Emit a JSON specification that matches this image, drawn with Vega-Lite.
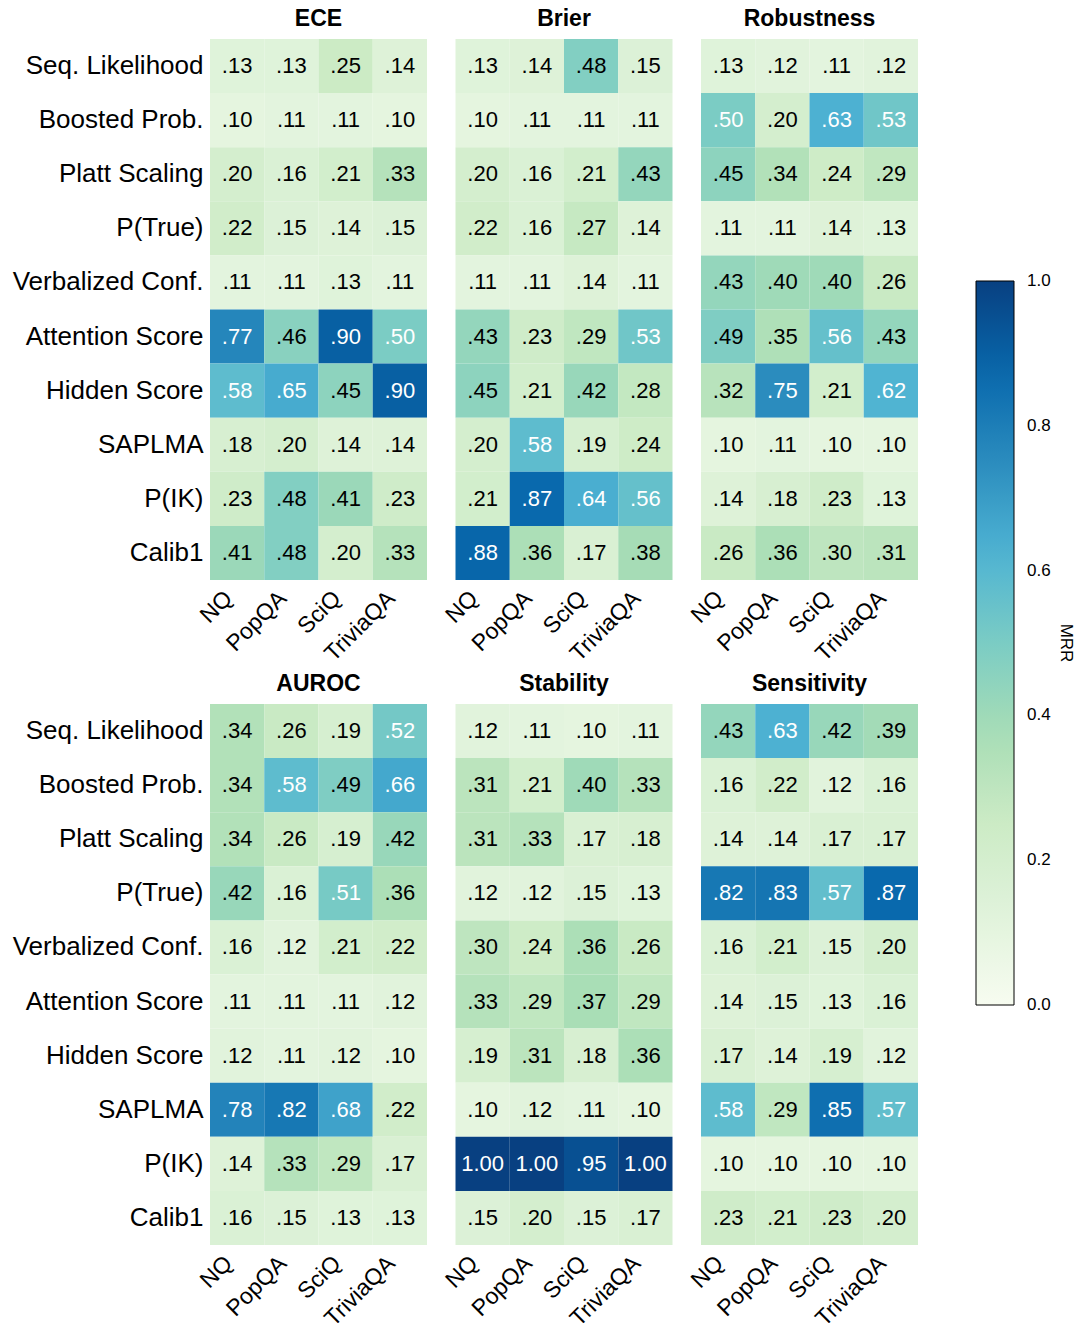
{
  "$schema": "https://vega.github.io/schema/vega-lite/v6.json",
  "padding": {"left": 12, "top": 8, "right": 5, "bottom": 0},
  "background": "white",
  "datasets": {
    "d": [
      {"metric":"ECE","method":"Seq. Likelihood","dataset":"NQ","v":0.13},{"metric":"ECE","method":"Seq. Likelihood","dataset":"PopQA","v":0.13},{"metric":"ECE","method":"Seq. Likelihood","dataset":"SciQ","v":0.25},{"metric":"ECE","method":"Seq. Likelihood","dataset":"TriviaQA","v":0.14},
      {"metric":"ECE","method":"Boosted Prob.","dataset":"NQ","v":0.10},{"metric":"ECE","method":"Boosted Prob.","dataset":"PopQA","v":0.11},{"metric":"ECE","method":"Boosted Prob.","dataset":"SciQ","v":0.11},{"metric":"ECE","method":"Boosted Prob.","dataset":"TriviaQA","v":0.10},
      {"metric":"ECE","method":"Platt Scaling","dataset":"NQ","v":0.20},{"metric":"ECE","method":"Platt Scaling","dataset":"PopQA","v":0.16},{"metric":"ECE","method":"Platt Scaling","dataset":"SciQ","v":0.21},{"metric":"ECE","method":"Platt Scaling","dataset":"TriviaQA","v":0.33},
      {"metric":"ECE","method":"P(True)","dataset":"NQ","v":0.22},{"metric":"ECE","method":"P(True)","dataset":"PopQA","v":0.15},{"metric":"ECE","method":"P(True)","dataset":"SciQ","v":0.14},{"metric":"ECE","method":"P(True)","dataset":"TriviaQA","v":0.15},
      {"metric":"ECE","method":"Verbalized Conf.","dataset":"NQ","v":0.11},{"metric":"ECE","method":"Verbalized Conf.","dataset":"PopQA","v":0.11},{"metric":"ECE","method":"Verbalized Conf.","dataset":"SciQ","v":0.13},{"metric":"ECE","method":"Verbalized Conf.","dataset":"TriviaQA","v":0.11},
      {"metric":"ECE","method":"Attention Score","dataset":"NQ","v":0.77},{"metric":"ECE","method":"Attention Score","dataset":"PopQA","v":0.46},{"metric":"ECE","method":"Attention Score","dataset":"SciQ","v":0.90},{"metric":"ECE","method":"Attention Score","dataset":"TriviaQA","v":0.50},
      {"metric":"ECE","method":"Hidden Score","dataset":"NQ","v":0.58},{"metric":"ECE","method":"Hidden Score","dataset":"PopQA","v":0.65},{"metric":"ECE","method":"Hidden Score","dataset":"SciQ","v":0.45},{"metric":"ECE","method":"Hidden Score","dataset":"TriviaQA","v":0.90},
      {"metric":"ECE","method":"SAPLMA","dataset":"NQ","v":0.18},{"metric":"ECE","method":"SAPLMA","dataset":"PopQA","v":0.20},{"metric":"ECE","method":"SAPLMA","dataset":"SciQ","v":0.14},{"metric":"ECE","method":"SAPLMA","dataset":"TriviaQA","v":0.14},
      {"metric":"ECE","method":"P(IK)","dataset":"NQ","v":0.23},{"metric":"ECE","method":"P(IK)","dataset":"PopQA","v":0.48},{"metric":"ECE","method":"P(IK)","dataset":"SciQ","v":0.41},{"metric":"ECE","method":"P(IK)","dataset":"TriviaQA","v":0.23},
      {"metric":"ECE","method":"Calib1","dataset":"NQ","v":0.41},{"metric":"ECE","method":"Calib1","dataset":"PopQA","v":0.48},{"metric":"ECE","method":"Calib1","dataset":"SciQ","v":0.20},{"metric":"ECE","method":"Calib1","dataset":"TriviaQA","v":0.33},

      {"metric":"Brier","method":"Seq. Likelihood","dataset":"NQ","v":0.13},{"metric":"Brier","method":"Seq. Likelihood","dataset":"PopQA","v":0.14},{"metric":"Brier","method":"Seq. Likelihood","dataset":"SciQ","v":0.48},{"metric":"Brier","method":"Seq. Likelihood","dataset":"TriviaQA","v":0.15},
      {"metric":"Brier","method":"Boosted Prob.","dataset":"NQ","v":0.10},{"metric":"Brier","method":"Boosted Prob.","dataset":"PopQA","v":0.11},{"metric":"Brier","method":"Boosted Prob.","dataset":"SciQ","v":0.11},{"metric":"Brier","method":"Boosted Prob.","dataset":"TriviaQA","v":0.11},
      {"metric":"Brier","method":"Platt Scaling","dataset":"NQ","v":0.20},{"metric":"Brier","method":"Platt Scaling","dataset":"PopQA","v":0.16},{"metric":"Brier","method":"Platt Scaling","dataset":"SciQ","v":0.21},{"metric":"Brier","method":"Platt Scaling","dataset":"TriviaQA","v":0.43},
      {"metric":"Brier","method":"P(True)","dataset":"NQ","v":0.22},{"metric":"Brier","method":"P(True)","dataset":"PopQA","v":0.16},{"metric":"Brier","method":"P(True)","dataset":"SciQ","v":0.27},{"metric":"Brier","method":"P(True)","dataset":"TriviaQA","v":0.14},
      {"metric":"Brier","method":"Verbalized Conf.","dataset":"NQ","v":0.11},{"metric":"Brier","method":"Verbalized Conf.","dataset":"PopQA","v":0.11},{"metric":"Brier","method":"Verbalized Conf.","dataset":"SciQ","v":0.14},{"metric":"Brier","method":"Verbalized Conf.","dataset":"TriviaQA","v":0.11},
      {"metric":"Brier","method":"Attention Score","dataset":"NQ","v":0.43},{"metric":"Brier","method":"Attention Score","dataset":"PopQA","v":0.23},{"metric":"Brier","method":"Attention Score","dataset":"SciQ","v":0.29},{"metric":"Brier","method":"Attention Score","dataset":"TriviaQA","v":0.53},
      {"metric":"Brier","method":"Hidden Score","dataset":"NQ","v":0.45},{"metric":"Brier","method":"Hidden Score","dataset":"PopQA","v":0.21},{"metric":"Brier","method":"Hidden Score","dataset":"SciQ","v":0.42},{"metric":"Brier","method":"Hidden Score","dataset":"TriviaQA","v":0.28},
      {"metric":"Brier","method":"SAPLMA","dataset":"NQ","v":0.20},{"metric":"Brier","method":"SAPLMA","dataset":"PopQA","v":0.58},{"metric":"Brier","method":"SAPLMA","dataset":"SciQ","v":0.19},{"metric":"Brier","method":"SAPLMA","dataset":"TriviaQA","v":0.24},
      {"metric":"Brier","method":"P(IK)","dataset":"NQ","v":0.21},{"metric":"Brier","method":"P(IK)","dataset":"PopQA","v":0.87},{"metric":"Brier","method":"P(IK)","dataset":"SciQ","v":0.64},{"metric":"Brier","method":"P(IK)","dataset":"TriviaQA","v":0.56},
      {"metric":"Brier","method":"Calib1","dataset":"NQ","v":0.88},{"metric":"Brier","method":"Calib1","dataset":"PopQA","v":0.36},{"metric":"Brier","method":"Calib1","dataset":"SciQ","v":0.17},{"metric":"Brier","method":"Calib1","dataset":"TriviaQA","v":0.38},

      {"metric":"Robustness","method":"Seq. Likelihood","dataset":"NQ","v":0.13},{"metric":"Robustness","method":"Seq. Likelihood","dataset":"PopQA","v":0.12},{"metric":"Robustness","method":"Seq. Likelihood","dataset":"SciQ","v":0.11},{"metric":"Robustness","method":"Seq. Likelihood","dataset":"TriviaQA","v":0.12},
      {"metric":"Robustness","method":"Boosted Prob.","dataset":"NQ","v":0.50},{"metric":"Robustness","method":"Boosted Prob.","dataset":"PopQA","v":0.20},{"metric":"Robustness","method":"Boosted Prob.","dataset":"SciQ","v":0.63},{"metric":"Robustness","method":"Boosted Prob.","dataset":"TriviaQA","v":0.53},
      {"metric":"Robustness","method":"Platt Scaling","dataset":"NQ","v":0.45},{"metric":"Robustness","method":"Platt Scaling","dataset":"PopQA","v":0.34},{"metric":"Robustness","method":"Platt Scaling","dataset":"SciQ","v":0.24},{"metric":"Robustness","method":"Platt Scaling","dataset":"TriviaQA","v":0.29},
      {"metric":"Robustness","method":"P(True)","dataset":"NQ","v":0.11},{"metric":"Robustness","method":"P(True)","dataset":"PopQA","v":0.11},{"metric":"Robustness","method":"P(True)","dataset":"SciQ","v":0.14},{"metric":"Robustness","method":"P(True)","dataset":"TriviaQA","v":0.13},
      {"metric":"Robustness","method":"Verbalized Conf.","dataset":"NQ","v":0.43},{"metric":"Robustness","method":"Verbalized Conf.","dataset":"PopQA","v":0.40},{"metric":"Robustness","method":"Verbalized Conf.","dataset":"SciQ","v":0.40},{"metric":"Robustness","method":"Verbalized Conf.","dataset":"TriviaQA","v":0.26},
      {"metric":"Robustness","method":"Attention Score","dataset":"NQ","v":0.49},{"metric":"Robustness","method":"Attention Score","dataset":"PopQA","v":0.35},{"metric":"Robustness","method":"Attention Score","dataset":"SciQ","v":0.56},{"metric":"Robustness","method":"Attention Score","dataset":"TriviaQA","v":0.43},
      {"metric":"Robustness","method":"Hidden Score","dataset":"NQ","v":0.32},{"metric":"Robustness","method":"Hidden Score","dataset":"PopQA","v":0.75},{"metric":"Robustness","method":"Hidden Score","dataset":"SciQ","v":0.21},{"metric":"Robustness","method":"Hidden Score","dataset":"TriviaQA","v":0.62},
      {"metric":"Robustness","method":"SAPLMA","dataset":"NQ","v":0.10},{"metric":"Robustness","method":"SAPLMA","dataset":"PopQA","v":0.11},{"metric":"Robustness","method":"SAPLMA","dataset":"SciQ","v":0.10},{"metric":"Robustness","method":"SAPLMA","dataset":"TriviaQA","v":0.10},
      {"metric":"Robustness","method":"P(IK)","dataset":"NQ","v":0.14},{"metric":"Robustness","method":"P(IK)","dataset":"PopQA","v":0.18},{"metric":"Robustness","method":"P(IK)","dataset":"SciQ","v":0.23},{"metric":"Robustness","method":"P(IK)","dataset":"TriviaQA","v":0.13},
      {"metric":"Robustness","method":"Calib1","dataset":"NQ","v":0.26},{"metric":"Robustness","method":"Calib1","dataset":"PopQA","v":0.36},{"metric":"Robustness","method":"Calib1","dataset":"SciQ","v":0.30},{"metric":"Robustness","method":"Calib1","dataset":"TriviaQA","v":0.31},

      {"metric":"AUROC","method":"Seq. Likelihood","dataset":"NQ","v":0.34},{"metric":"AUROC","method":"Seq. Likelihood","dataset":"PopQA","v":0.26},{"metric":"AUROC","method":"Seq. Likelihood","dataset":"SciQ","v":0.19},{"metric":"AUROC","method":"Seq. Likelihood","dataset":"TriviaQA","v":0.52},
      {"metric":"AUROC","method":"Boosted Prob.","dataset":"NQ","v":0.34},{"metric":"AUROC","method":"Boosted Prob.","dataset":"PopQA","v":0.58},{"metric":"AUROC","method":"Boosted Prob.","dataset":"SciQ","v":0.49},{"metric":"AUROC","method":"Boosted Prob.","dataset":"TriviaQA","v":0.66},
      {"metric":"AUROC","method":"Platt Scaling","dataset":"NQ","v":0.34},{"metric":"AUROC","method":"Platt Scaling","dataset":"PopQA","v":0.26},{"metric":"AUROC","method":"Platt Scaling","dataset":"SciQ","v":0.19},{"metric":"AUROC","method":"Platt Scaling","dataset":"TriviaQA","v":0.42},
      {"metric":"AUROC","method":"P(True)","dataset":"NQ","v":0.42},{"metric":"AUROC","method":"P(True)","dataset":"PopQA","v":0.16},{"metric":"AUROC","method":"P(True)","dataset":"SciQ","v":0.51},{"metric":"AUROC","method":"P(True)","dataset":"TriviaQA","v":0.36},
      {"metric":"AUROC","method":"Verbalized Conf.","dataset":"NQ","v":0.16},{"metric":"AUROC","method":"Verbalized Conf.","dataset":"PopQA","v":0.12},{"metric":"AUROC","method":"Verbalized Conf.","dataset":"SciQ","v":0.21},{"metric":"AUROC","method":"Verbalized Conf.","dataset":"TriviaQA","v":0.22},
      {"metric":"AUROC","method":"Attention Score","dataset":"NQ","v":0.11},{"metric":"AUROC","method":"Attention Score","dataset":"PopQA","v":0.11},{"metric":"AUROC","method":"Attention Score","dataset":"SciQ","v":0.11},{"metric":"AUROC","method":"Attention Score","dataset":"TriviaQA","v":0.12},
      {"metric":"AUROC","method":"Hidden Score","dataset":"NQ","v":0.12},{"metric":"AUROC","method":"Hidden Score","dataset":"PopQA","v":0.11},{"metric":"AUROC","method":"Hidden Score","dataset":"SciQ","v":0.12},{"metric":"AUROC","method":"Hidden Score","dataset":"TriviaQA","v":0.10},
      {"metric":"AUROC","method":"SAPLMA","dataset":"NQ","v":0.78},{"metric":"AUROC","method":"SAPLMA","dataset":"PopQA","v":0.82},{"metric":"AUROC","method":"SAPLMA","dataset":"SciQ","v":0.68},{"metric":"AUROC","method":"SAPLMA","dataset":"TriviaQA","v":0.22},
      {"metric":"AUROC","method":"P(IK)","dataset":"NQ","v":0.14},{"metric":"AUROC","method":"P(IK)","dataset":"PopQA","v":0.33},{"metric":"AUROC","method":"P(IK)","dataset":"SciQ","v":0.29},{"metric":"AUROC","method":"P(IK)","dataset":"TriviaQA","v":0.17},
      {"metric":"AUROC","method":"Calib1","dataset":"NQ","v":0.16},{"metric":"AUROC","method":"Calib1","dataset":"PopQA","v":0.15},{"metric":"AUROC","method":"Calib1","dataset":"SciQ","v":0.13},{"metric":"AUROC","method":"Calib1","dataset":"TriviaQA","v":0.13},

      {"metric":"Stability","method":"Seq. Likelihood","dataset":"NQ","v":0.12},{"metric":"Stability","method":"Seq. Likelihood","dataset":"PopQA","v":0.11},{"metric":"Stability","method":"Seq. Likelihood","dataset":"SciQ","v":0.10},{"metric":"Stability","method":"Seq. Likelihood","dataset":"TriviaQA","v":0.11},
      {"metric":"Stability","method":"Boosted Prob.","dataset":"NQ","v":0.31},{"metric":"Stability","method":"Boosted Prob.","dataset":"PopQA","v":0.21},{"metric":"Stability","method":"Boosted Prob.","dataset":"SciQ","v":0.40},{"metric":"Stability","method":"Boosted Prob.","dataset":"TriviaQA","v":0.33},
      {"metric":"Stability","method":"Platt Scaling","dataset":"NQ","v":0.31},{"metric":"Stability","method":"Platt Scaling","dataset":"PopQA","v":0.33},{"metric":"Stability","method":"Platt Scaling","dataset":"SciQ","v":0.17},{"metric":"Stability","method":"Platt Scaling","dataset":"TriviaQA","v":0.18},
      {"metric":"Stability","method":"P(True)","dataset":"NQ","v":0.12},{"metric":"Stability","method":"P(True)","dataset":"PopQA","v":0.12},{"metric":"Stability","method":"P(True)","dataset":"SciQ","v":0.15},{"metric":"Stability","method":"P(True)","dataset":"TriviaQA","v":0.13},
      {"metric":"Stability","method":"Verbalized Conf.","dataset":"NQ","v":0.30},{"metric":"Stability","method":"Verbalized Conf.","dataset":"PopQA","v":0.24},{"metric":"Stability","method":"Verbalized Conf.","dataset":"SciQ","v":0.36},{"metric":"Stability","method":"Verbalized Conf.","dataset":"TriviaQA","v":0.26},
      {"metric":"Stability","method":"Attention Score","dataset":"NQ","v":0.33},{"metric":"Stability","method":"Attention Score","dataset":"PopQA","v":0.29},{"metric":"Stability","method":"Attention Score","dataset":"SciQ","v":0.37},{"metric":"Stability","method":"Attention Score","dataset":"TriviaQA","v":0.29},
      {"metric":"Stability","method":"Hidden Score","dataset":"NQ","v":0.19},{"metric":"Stability","method":"Hidden Score","dataset":"PopQA","v":0.31},{"metric":"Stability","method":"Hidden Score","dataset":"SciQ","v":0.18},{"metric":"Stability","method":"Hidden Score","dataset":"TriviaQA","v":0.36},
      {"metric":"Stability","method":"SAPLMA","dataset":"NQ","v":0.10},{"metric":"Stability","method":"SAPLMA","dataset":"PopQA","v":0.12},{"metric":"Stability","method":"SAPLMA","dataset":"SciQ","v":0.11},{"metric":"Stability","method":"SAPLMA","dataset":"TriviaQA","v":0.10},
      {"metric":"Stability","method":"P(IK)","dataset":"NQ","v":1.00},{"metric":"Stability","method":"P(IK)","dataset":"PopQA","v":1.00},{"metric":"Stability","method":"P(IK)","dataset":"SciQ","v":0.95},{"metric":"Stability","method":"P(IK)","dataset":"TriviaQA","v":1.00},
      {"metric":"Stability","method":"Calib1","dataset":"NQ","v":0.15},{"metric":"Stability","method":"Calib1","dataset":"PopQA","v":0.20},{"metric":"Stability","method":"Calib1","dataset":"SciQ","v":0.15},{"metric":"Stability","method":"Calib1","dataset":"TriviaQA","v":0.17},

      {"metric":"Sensitivity","method":"Seq. Likelihood","dataset":"NQ","v":0.43},{"metric":"Sensitivity","method":"Seq. Likelihood","dataset":"PopQA","v":0.63},{"metric":"Sensitivity","method":"Seq. Likelihood","dataset":"SciQ","v":0.42},{"metric":"Sensitivity","method":"Seq. Likelihood","dataset":"TriviaQA","v":0.39},
      {"metric":"Sensitivity","method":"Boosted Prob.","dataset":"NQ","v":0.16},{"metric":"Sensitivity","method":"Boosted Prob.","dataset":"PopQA","v":0.22},{"metric":"Sensitivity","method":"Boosted Prob.","dataset":"SciQ","v":0.12},{"metric":"Sensitivity","method":"Boosted Prob.","dataset":"TriviaQA","v":0.16},
      {"metric":"Sensitivity","method":"Platt Scaling","dataset":"NQ","v":0.14},{"metric":"Sensitivity","method":"Platt Scaling","dataset":"PopQA","v":0.14},{"metric":"Sensitivity","method":"Platt Scaling","dataset":"SciQ","v":0.17},{"metric":"Sensitivity","method":"Platt Scaling","dataset":"TriviaQA","v":0.17},
      {"metric":"Sensitivity","method":"P(True)","dataset":"NQ","v":0.82},{"metric":"Sensitivity","method":"P(True)","dataset":"PopQA","v":0.83},{"metric":"Sensitivity","method":"P(True)","dataset":"SciQ","v":0.57},{"metric":"Sensitivity","method":"P(True)","dataset":"TriviaQA","v":0.87},
      {"metric":"Sensitivity","method":"Verbalized Conf.","dataset":"NQ","v":0.16},{"metric":"Sensitivity","method":"Verbalized Conf.","dataset":"PopQA","v":0.21},{"metric":"Sensitivity","method":"Verbalized Conf.","dataset":"SciQ","v":0.15},{"metric":"Sensitivity","method":"Verbalized Conf.","dataset":"TriviaQA","v":0.20},
      {"metric":"Sensitivity","method":"Attention Score","dataset":"NQ","v":0.14},{"metric":"Sensitivity","method":"Attention Score","dataset":"PopQA","v":0.15},{"metric":"Sensitivity","method":"Attention Score","dataset":"SciQ","v":0.13},{"metric":"Sensitivity","method":"Attention Score","dataset":"TriviaQA","v":0.16},
      {"metric":"Sensitivity","method":"Hidden Score","dataset":"NQ","v":0.17},{"metric":"Sensitivity","method":"Hidden Score","dataset":"PopQA","v":0.14},{"metric":"Sensitivity","method":"Hidden Score","dataset":"SciQ","v":0.19},{"metric":"Sensitivity","method":"Hidden Score","dataset":"TriviaQA","v":0.12},
      {"metric":"Sensitivity","method":"SAPLMA","dataset":"NQ","v":0.58},{"metric":"Sensitivity","method":"SAPLMA","dataset":"PopQA","v":0.29},{"metric":"Sensitivity","method":"SAPLMA","dataset":"SciQ","v":0.85},{"metric":"Sensitivity","method":"SAPLMA","dataset":"TriviaQA","v":0.57},
      {"metric":"Sensitivity","method":"P(IK)","dataset":"NQ","v":0.10},{"metric":"Sensitivity","method":"P(IK)","dataset":"PopQA","v":0.10},{"metric":"Sensitivity","method":"P(IK)","dataset":"SciQ","v":0.10},{"metric":"Sensitivity","method":"P(IK)","dataset":"TriviaQA","v":0.10},
      {"metric":"Sensitivity","method":"Calib1","dataset":"NQ","v":0.23},{"metric":"Sensitivity","method":"Calib1","dataset":"PopQA","v":0.21},{"metric":"Sensitivity","method":"Calib1","dataset":"SciQ","v":0.23},{"metric":"Sensitivity","method":"Calib1","dataset":"TriviaQA","v":0.20}
    ]
  },
  "data": {"name": "d"},
  "spacing": 7,
  "vconcat": [
    {
      "spacing": 28.5,
      "bounds": "flush",
      "hconcat": [
        {
          "width": 217, "height": 541,
          "title": "ECE",
          "transform": [{"filter": "datum.metric === 'ECE'"}, {"calculate": "replace(format(datum.v, '.2f'), '0.', '.')", "as": "label"}],
          "encoding": {
            "x": {"field": "dataset", "type": "nominal", "sort": ["NQ","PopQA","SciQ","TriviaQA"], "scale": {"paddingInner": 0, "paddingOuter": 0}, "title": null},
            "y": {"field": "method", "type": "nominal", "sort": ["Seq. Likelihood","Boosted Prob.","Platt Scaling","P(True)","Verbalized Conf.","Attention Score","Hidden Score","SAPLMA","P(IK)","Calib1"], "scale": {"paddingInner": 0, "paddingOuter": 0}, "title": null}
          },
          "layer": [
            {"mark": {"type": "rect"}, "encoding": {"color": {"field": "v", "type": "quantitative", "scale": {"domain": [0, 0.125, 0.25, 0.375, 0.5, 0.625, 0.75, 0.875, 1], "range": ["#f7fcf0","#e0f3db","#ccebc5","#a8ddb5","#7bccc4","#4eb3d3","#2b8cbe","#0868ac","#084081"], "interpolate": "rgb"}, "title": "MRR", "legend": {"orient": "none", "legendX": 766, "legendY": 242, "values": [0, 0.2, 0.4, 0.6, 0.8, 1.0], "format": ".1f", "labelOffset": 13, "labelFontSize": 17, "labelFont": "Liberation Sans", "labelColor": "black", "labelOverlap": false, "titleOrient": "right", "titleAngle": 270, "titlePadding": 6, "titleFontSize": 17, "titleFontWeight": "normal", "titleAnchor": "middle", "encode": {"labels": {"update": {"baseline": {"value": "middle"}}}}}}}},
            {"mark": {"type": "text", "fontSize": 22, "font": "Liberation Sans"}, "encoding": {"text": {"field": "label"}, "color": {"condition": {"test": "datum.v >= 0.5", "value": "white"}, "value": "black"}}}
          ]
        },
        {
          "width": 217, "height": 541,
          "title": "Brier",
          "transform": [{"filter": "datum.metric === 'Brier'"}, {"calculate": "replace(format(datum.v, '.2f'), '0.', '.')", "as": "label"}],
          "encoding": {
            "x": {"field": "dataset", "type": "nominal", "sort": ["NQ","PopQA","SciQ","TriviaQA"], "scale": {"paddingInner": 0, "paddingOuter": 0}, "title": null},
            "y": {"field": "method", "type": "nominal", "sort": ["Seq. Likelihood","Boosted Prob.","Platt Scaling","P(True)","Verbalized Conf.","Attention Score","Hidden Score","SAPLMA","P(IK)","Calib1"], "scale": {"paddingInner": 0, "paddingOuter": 0}, "axis": null}
          },
          "layer": [
            {"mark": {"type": "rect"}, "encoding": {"color": {"field": "v", "type": "quantitative", "scale": {"domain": [0, 0.125, 0.25, 0.375, 0.5, 0.625, 0.75, 0.875, 1], "range": ["#f7fcf0","#e0f3db","#ccebc5","#a8ddb5","#7bccc4","#4eb3d3","#2b8cbe","#0868ac","#084081"], "interpolate": "rgb"}, "title": "MRR"}}},
            {"mark": {"type": "text", "fontSize": 22, "font": "Liberation Sans"}, "encoding": {"text": {"field": "label"}, "color": {"condition": {"test": "datum.v >= 0.5", "value": "white"}, "value": "black"}}}
          ]
        },
        {
          "width": 217, "height": 541,
          "title": "Robustness",
          "transform": [{"filter": "datum.metric === 'Robustness'"}, {"calculate": "replace(format(datum.v, '.2f'), '0.', '.')", "as": "label"}],
          "encoding": {
            "x": {"field": "dataset", "type": "nominal", "sort": ["NQ","PopQA","SciQ","TriviaQA"], "scale": {"paddingInner": 0, "paddingOuter": 0}, "title": null},
            "y": {"field": "method", "type": "nominal", "sort": ["Seq. Likelihood","Boosted Prob.","Platt Scaling","P(True)","Verbalized Conf.","Attention Score","Hidden Score","SAPLMA","P(IK)","Calib1"], "scale": {"paddingInner": 0, "paddingOuter": 0}, "axis": null}
          },
          "layer": [
            {"mark": {"type": "rect"}, "encoding": {"color": {"field": "v", "type": "quantitative", "scale": {"domain": [0, 0.125, 0.25, 0.375, 0.5, 0.625, 0.75, 0.875, 1], "range": ["#f7fcf0","#e0f3db","#ccebc5","#a8ddb5","#7bccc4","#4eb3d3","#2b8cbe","#0868ac","#084081"], "interpolate": "rgb"}, "title": "MRR"}}},
            {"mark": {"type": "text", "fontSize": 22, "font": "Liberation Sans"}, "encoding": {"text": {"field": "label"}, "color": {"condition": {"test": "datum.v >= 0.5", "value": "white"}, "value": "black"}}}
          ]
        }
      ]
    },
    {
      "spacing": 28.5,
      "bounds": "flush",
      "hconcat": [
        {
          "width": 217, "height": 541,
          "title": "AUROC",
          "transform": [{"filter": "datum.metric === 'AUROC'"}, {"calculate": "replace(format(datum.v, '.2f'), '0.', '.')", "as": "label"}],
          "encoding": {
            "x": {"field": "dataset", "type": "nominal", "sort": ["NQ","PopQA","SciQ","TriviaQA"], "scale": {"paddingInner": 0, "paddingOuter": 0}, "title": null},
            "y": {"field": "method", "type": "nominal", "sort": ["Seq. Likelihood","Boosted Prob.","Platt Scaling","P(True)","Verbalized Conf.","Attention Score","Hidden Score","SAPLMA","P(IK)","Calib1"], "scale": {"paddingInner": 0, "paddingOuter": 0}, "title": null}
          },
          "layer": [
            {"mark": {"type": "rect"}, "encoding": {"color": {"field": "v", "type": "quantitative", "scale": {"domain": [0, 0.125, 0.25, 0.375, 0.5, 0.625, 0.75, 0.875, 1], "range": ["#f7fcf0","#e0f3db","#ccebc5","#a8ddb5","#7bccc4","#4eb3d3","#2b8cbe","#0868ac","#084081"], "interpolate": "rgb"}, "title": "MRR"}}},
            {"mark": {"type": "text", "fontSize": 22, "font": "Liberation Sans"}, "encoding": {"text": {"field": "label"}, "color": {"condition": {"test": "datum.v >= 0.5", "value": "white"}, "value": "black"}}}
          ]
        },
        {
          "width": 217, "height": 541,
          "title": "Stability",
          "transform": [{"filter": "datum.metric === 'Stability'"}, {"calculate": "replace(format(datum.v, '.2f'), '0.', '.')", "as": "label"}],
          "encoding": {
            "x": {"field": "dataset", "type": "nominal", "sort": ["NQ","PopQA","SciQ","TriviaQA"], "scale": {"paddingInner": 0, "paddingOuter": 0}, "title": null},
            "y": {"field": "method", "type": "nominal", "sort": ["Seq. Likelihood","Boosted Prob.","Platt Scaling","P(True)","Verbalized Conf.","Attention Score","Hidden Score","SAPLMA","P(IK)","Calib1"], "scale": {"paddingInner": 0, "paddingOuter": 0}, "axis": null}
          },
          "layer": [
            {"mark": {"type": "rect"}, "encoding": {"color": {"field": "v", "type": "quantitative", "scale": {"domain": [0, 0.125, 0.25, 0.375, 0.5, 0.625, 0.75, 0.875, 1], "range": ["#f7fcf0","#e0f3db","#ccebc5","#a8ddb5","#7bccc4","#4eb3d3","#2b8cbe","#0868ac","#084081"], "interpolate": "rgb"}, "title": "MRR"}}},
            {"mark": {"type": "text", "fontSize": 22, "font": "Liberation Sans"}, "encoding": {"text": {"field": "label"}, "color": {"condition": {"test": "datum.v >= 0.5", "value": "white"}, "value": "black"}}}
          ]
        },
        {
          "width": 217, "height": 541,
          "title": "Sensitivity",
          "transform": [{"filter": "datum.metric === 'Sensitivity'"}, {"calculate": "replace(format(datum.v, '.2f'), '0.', '.')", "as": "label"}],
          "encoding": {
            "x": {"field": "dataset", "type": "nominal", "sort": ["NQ","PopQA","SciQ","TriviaQA"], "scale": {"paddingInner": 0, "paddingOuter": 0}, "title": null},
            "y": {"field": "method", "type": "nominal", "sort": ["Seq. Likelihood","Boosted Prob.","Platt Scaling","P(True)","Verbalized Conf.","Attention Score","Hidden Score","SAPLMA","P(IK)","Calib1"], "scale": {"paddingInner": 0, "paddingOuter": 0}, "axis": null}
          },
          "layer": [
            {"mark": {"type": "rect"}, "encoding": {"color": {"field": "v", "type": "quantitative", "scale": {"domain": [0, 0.125, 0.25, 0.375, 0.5, 0.625, 0.75, 0.875, 1], "range": ["#f7fcf0","#e0f3db","#ccebc5","#a8ddb5","#7bccc4","#4eb3d3","#2b8cbe","#0868ac","#084081"], "interpolate": "rgb"}, "title": "MRR"}}},
            {"mark": {"type": "text", "fontSize": 22, "font": "Liberation Sans"}, "encoding": {"text": {"field": "label"}, "color": {"condition": {"test": "datum.v >= 0.5", "value": "white"}, "value": "black"}}}
          ]
        }
      ]
    }
  ],
  "config": {
    "font": "Liberation Sans",
    "view": {"stroke": null},
    "title": {"font": "Liberation Sans", "fontSize": 23, "fontWeight": "bold", "color": "black", "offset": 8},
    "axis": {"labelFont": "Liberation Sans", "labelFontSize": 26, "labelColor": "black", "labelLimit": 400, "domain": false, "ticks": false, "tickSize": 0, "labelPadding": 7},
    "axisX": {"labelAngle": -45, "labelAlign": "right", "labelBaseline": "bottom", "labelPadding": 23, "labelFontSize": 23},
    "legend": {
      "direction": "vertical",
      "gradientLength": 724, "gradientThickness": 38,
      "gradientStrokeColor": "black", "gradientStrokeWidth": 1,
      "labelFont": "Liberation Sans", "labelFontSize": 17, "labelColor": "black",
      "titleFont": "Liberation Sans", "titleFontSize": 17, "titleFontWeight": "normal", "titleColor": "black"
    }
  }
}
